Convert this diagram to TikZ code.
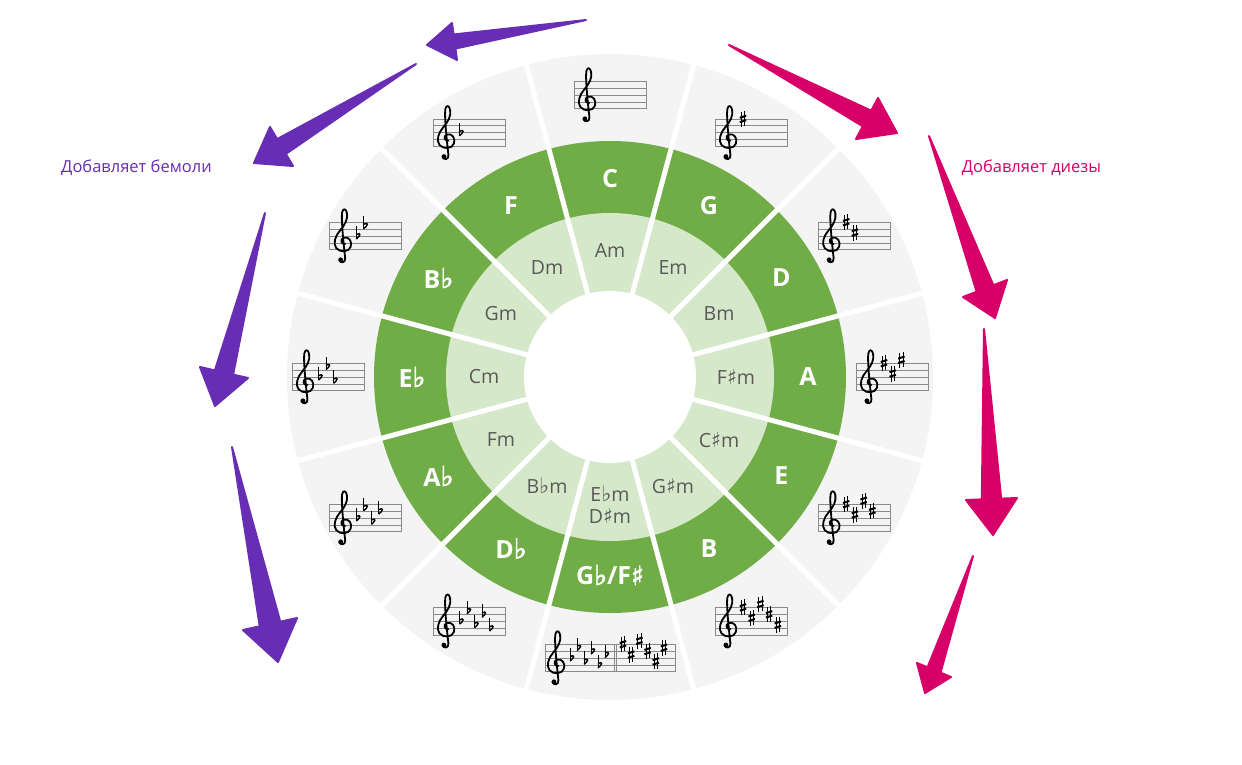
\documentclass[tikz,border=0pt]{standalone}
\usepackage{fontspec}
\setmainfont{Open Sans}
\newfontfamily\symfont{DejaVu Sans}
\newfontfamily\symbold[FakeBold=2.5]{DejaVu Sans}
\usetikzlibrary{calc}

\definecolor{ringgray}{HTML}{F4F4F4}
\definecolor{majgreen}{HTML}{70AD47}
\definecolor{mingreen}{HTML}{D5E8CA}
\definecolor{mintext}{HTML}{595959}
\definecolor{flatpurple}{HTML}{672DB5}
\definecolor{sharppink}{HTML}{D60068}
\definecolor{staffgray}{HTML}{8A8A8A}

\newcommand\flt{{\symfont\fontsize{1.1em}{1em}\selectfont ♭}}
\newcommand\shr{{\symfont\fontsize{1.05em}{1em}\selectfont ♯}}
\newcommand\bflt{{\symbold\fontsize{1.1em}{1em}\selectfont ♭}}
\newcommand\bshr{{\symbold\fontsize{1.05em}{1em}\selectfont ♯}}

% colour, tail, tip, barb 1, barb 2
\newcommand\fatarrow[5]{%
  \filldraw[#1, line width=2pt, line join=round]
    (#2) -- ($(#4)!0.31!(#5)$) -- (#4) -- (#3) -- (#5) -- ($(#4)!0.69!(#5)$) -- cycle;
}

\tikzset{
  major/.style={text=white, font=\fontsize{25}{28}\selectfont\bfseries, inner sep=0pt},
  minor/.style={text=mintext, font=\fontsize{19.5}{22}\selectfont, inner sep=0pt, align=center},
  side/.style={font=\fontsize{16.5}{19}\selectfont, inner sep=0pt},
  staffline/.style={draw=staffgray, line width=0.8pt},
  clef/.pic={
    \begin{scope}[scale=6.9]
      \draw[line width=1.8pt, line cap=round, line join=round]
        (0.35,0.85) .. controls (-0.25,0.75) and (-0.45,1.55) .. (0.15,1.75)
        .. controls (0.9,1.95) and (1.4,1.2) .. (1.15,0.45)
        .. controls (0.9,-0.35) and (-0.4,-0.45) .. (-0.95,0.25)
        .. controls (-1.45,0.9) and (-1.1,2.0) .. (-0.4,2.8)
        .. controls (0.3,3.6) and (0.75,4.4) .. (0.6,5.3)
        .. controls (0.5,6.0) and (0.0,6.1) .. (-0.1,5.4)
        .. controls (-0.25,4.4) and (0.15,0.5) .. (0.35,-1.2)
        .. controls (0.45,-1.9) and (-0.35,-2.0) .. (-0.5,-1.5);
      \fill (-0.3,-1.45) circle (0.35);
    \end{scope}
  },
  sharpsign/.pic={
    \draw[line width=0.9pt] (-1.6,-8) -- (-1.6,7.2) (1.6,-7.2) -- (1.6,8);
    \draw[line width=2pt] (-3.2,-3.2) -- (3.2,-1.2) (-3.2,1.2) -- (3.2,3.2);
  },
  flatsign/.pic={
    \draw[line width=0.9pt] (-2,-3) -- (-2,10);
    \draw[line width=1.4pt] (-2,-3) .. controls (2,0) and (3.5,4) .. (-2,1.5);
  },
}

\begin{document}
\begin{tikzpicture}[x=1pt, y=1pt]
    \fill[white] (-610,-387) rectangle (632,377);
    \useasboundingbox (-610,-387) rectangle (632,377);

    % Rings
    \fill[ringgray] (0,0) circle (323);
    \fill[majgreen] (0,0) circle (236);
    \fill[mingreen] (0,0) circle (164);
    \fill[white] (0,0) circle (86);
    \foreach \a in {15,45,...,345}
        \draw[white, line width=5pt] (\a:80) -- (\a:330);

    % Staves with sharps
    \foreach \ang/\n in {90/0, 60/1, 30/2, 0/3, -30/4, -60/5} {
        \begin{scope}[shift={(\ang:282)}]
            \draw[staffline] (-36,-13.8) rectangle (36,13.8);
            \foreach \l in {-6.9,0,6.9} \draw[staffline] (-36,\l) -- (36,\l);
            \pic at (-23,-13.8) {clef};
            \foreach \s [count=\j] in {8,5,9,6,3,7} {
                \ifnum\j>\n\relax\else
                    \pic at ({-8+(\j-1)*8.7},{-13.8+\s*3.45}) {sharpsign};
                \fi
            }
        \end{scope}
    }

    % Staves with flats
    \foreach \ang/\n in {120/1, 150/2, 180/3, 210/4, 240/5} {
        \begin{scope}[shift={(\ang:282)}]
            \draw[staffline] (-36,-13.8) rectangle (36,13.8);
            \foreach \l in {-6.9,0,6.9} \draw[staffline] (-36,\l) -- (36,\l);
            \pic at (-23,-13.8) {clef};
            \foreach \s [count=\j] in {4,7,3,6,2,5} {
                \ifnum\j>\n\relax\else
                    \pic at ({-7.5+(\j-1)*7.5},{-13.8+\s*3.45}) {flatsign};
                \fi
            }
        \end{scope}
    }

    % Bottom stave: six flats and six sharps
    \begin{scope}[shift={(0,-281)}]
        \draw[staffline] (-65,-13.8) rectangle (65,13.8);
        \foreach \l in {-6.9,0,6.9} \draw[staffline] (-65,\l) -- (65,\l);
        \draw[staffline] (4,-13.8) -- (4,13.8) (6.5,-13.8) -- (6.5,13.8);
        \pic at (-54,-13.8) {clef};
        \foreach \s [count=\j] in {4,7,3,6,2,5}
            \pic at ({-38+(\j-1)*7},{-13.8+\s*3.45}) {flatsign};
        \foreach \s [count=\j] in {8,5,9,6,3,7}
            \pic at ({13+(\j-1)*8.2},{-13.8+\s*3.45}) {sharpsign};
    \end{scope}

    % Major keys
    \node[major] (C)  at (90:198)   {C};
    \node[major] (G)  at (60:198)   {G};
    \node[major] (D)  at (30:198)   {D};
    \node[major] (A)  at (0:198)    {A};
    \node[major] (E)  at (-30:198)  {E};
    \node[major] (B)  at (-60:198)  {B};
    \node[major] (Gb) at (-90:198)  {G\bflt/F\bshr};
    \node[major] (Db) at (-120:198) {D\bflt};
    \node[major] (Ab) at (-150:198) {A\bflt};
    \node[major] (Eb) at (180:198)  {E\bflt};
    \node[major] (Bb) at (150:198)  {B\bflt};
    \node[major] (F)  at (120:198)  {F};

    % Minor keys
    \node[minor] (Am)  at (90:126)   {Am};
    \node[minor] (Em)  at (60:126)   {Em};
    \node[minor] (Bm)  at (30:126)   {Bm};
    \node[minor] (Fsm) at (0:126)    {F\shr m};
    \node[minor] (Csm) at (-30:126)  {C\shr m};
    \node[minor] (Gsm) at (-60:126)  {G\shr m};
    \node[minor] (Ebm) at (-90:128)  {E\flt m\\D\shr m};
    \node[minor] (Bbm) at (-120:126) {B\flt m};
    \node[minor] (Fm)  at (-150:126) {Fm};
    \node[minor] (Cm)  at (180:126)  {Cm};
    \node[minor] (Gm)  at (150:126)  {Gm};
    \node[minor] (Dm)  at (120:126)  {Dm};

    % Side notes
    \node[side, text=flatpurple] (addflats)  at (-473.5,209) {Добавляет бемоли};
    \node[side, text=sharppink]  (addsharps) at (421.5,209)  {Добавляет диезы};

    % Arrow points
    \coordinate (fa1t) at (-24,357);  \coordinate (fa1p) at (-183,332);
    \coordinate (fa1l) at (-158,354); \coordinate (fa1r) at (-153,317);
    \coordinate (fa2t) at (-194,313); \coordinate (fa2p) at (-356,214);
    \coordinate (fa2l) at (-340,250); \coordinate (fa2r) at (-317,211);
    \coordinate (fa3t) at (-345,164); \coordinate (fa3p) at (-395,-29);
    \coordinate (fa3l) at (-410,10);  \coordinate (fa3r) at (-362,-1);
    \coordinate (fa4t) at (-378,-70); \coordinate (fa4p) at (-332,-285);
    \coordinate (fa4l) at (-367,-253); \coordinate (fa4r) at (-313,-241);

    \coordinate (sa1t) at (119,332);  \coordinate (sa1p) at (287,244);
    \coordinate (sa1l) at (268,279);  \coordinate (sa1r) at (246,238);
    \coordinate (sa2t) at (319,241);  \coordinate (sa2p) at (385,59);
    \coordinate (sa2l) at (397,97);   \coordinate (sa2r) at (353,80);
    \coordinate (sa3t) at (374,48);   \coordinate (sa3p) at (383,-158);
    \coordinate (sa3l) at (356,-123); \coordinate (sa3r) at (407,-121);
    \coordinate (sa4t) at (363,-179); \coordinate (sa4p) at (315,-316);
    \coordinate (sa4l) at (307,-286); \coordinate (sa4r) at (341,-300);

    % Draw arrows
    \fatarrow{flatpurple}{fa1t}{fa1p}{fa1l}{fa1r}
    \fatarrow{flatpurple}{fa2t}{fa2p}{fa2l}{fa2r}
    \fatarrow{flatpurple}{fa3t}{fa3p}{fa3l}{fa3r}
    \fatarrow{flatpurple}{fa4t}{fa4p}{fa4l}{fa4r}
    \fatarrow{sharppink}{sa1t}{sa1p}{sa1l}{sa1r}
    \fatarrow{sharppink}{sa2t}{sa2p}{sa2l}{sa2r}
    \fatarrow{sharppink}{sa3t}{sa3p}{sa3l}{sa3r}
    \fatarrow{sharppink}{sa4t}{sa4p}{sa4l}{sa4r}
\end{tikzpicture}
\end{document}
